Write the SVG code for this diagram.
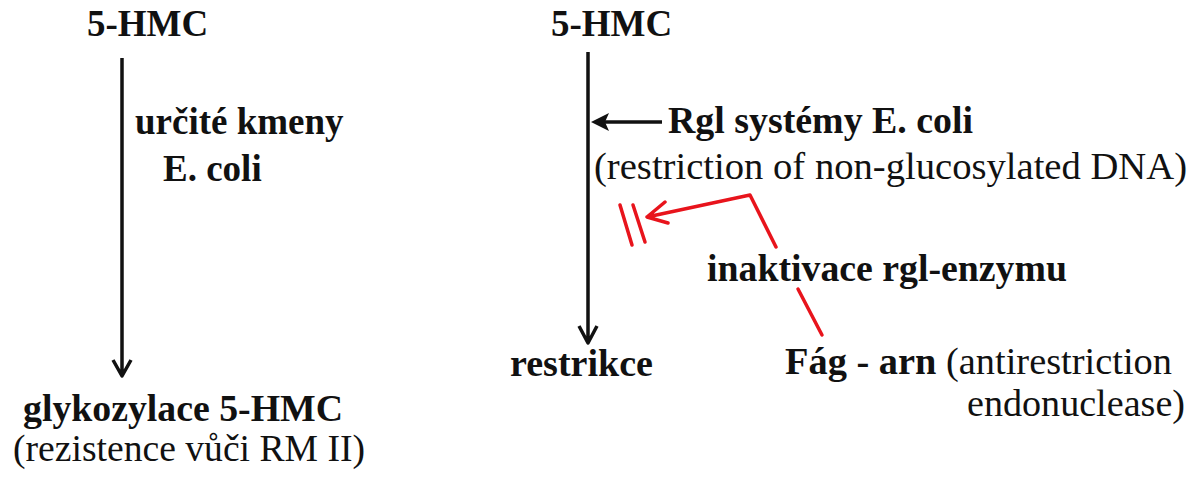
<svg xmlns="http://www.w3.org/2000/svg" width="1193" height="477" viewBox="0 0 1193 477">
<style>
text{font-family:'Liberation Serif','Times New Roman',serif;font-size:37px;fill:#111}
.b{font-weight:bold}
.k{stroke:#111;stroke-width:3.5;fill:none;stroke-linejoin:round}
.r{stroke:#e8141c;stroke-width:3.5;fill:none;stroke-linecap:round;stroke-linejoin:round}
</style>
<rect width="1193" height="477" fill="#fff"/>
<g id="left-top"><text class="b" x="87" y="36">5-HMC</text></g>
<g id="left-label"><text class="b" x="135" y="134">určité kmeny</text><text class="b" x="163" y="181">E. coli</text></g>
<g id="left-bottom"><text class="b" x="23" y="421" textLength="320" lengthAdjust="spacingAndGlyphs">glykozylace 5-HMC</text><text x="13" y="461" textLength="352" lengthAdjust="spacingAndGlyphs">(rezistence vůči RM II)</text></g>
<g id="right-top"><text class="b" x="551" y="36">5-HMC</text></g>
<g id="rgl"><text class="b" x="668" y="133" textLength="305" lengthAdjust="spacingAndGlyphs">Rgl systémy E. coli</text><text x="594" y="179" textLength="593" lengthAdjust="spacingAndGlyphs">(restriction of non-glucosylated DNA)</text></g>
<g id="restrikce"><text class="b" x="510" y="376" textLength="143" lengthAdjust="spacingAndGlyphs">restrikce</text></g>
<g id="inaktivace"><text class="b" x="707" y="281" textLength="360" lengthAdjust="spacingAndGlyphs">inaktivace rgl-enzymu</text></g>
<g id="fag"><text x="785" y="374" textLength="387" lengthAdjust="spacingAndGlyphs"><tspan font-weight="bold">Fág - arn</tspan> (antirestriction</text><text x="967" y="416" textLength="218" lengthAdjust="spacingAndGlyphs">endonuclease)</text></g>
<g id="connectors">
<path class="k" d="M122 58V375M113 360L122 376L131 360"/>
<path class="k" d="M588 52V342M579 326L588 343L597 326"/>
<path class="k" d="M662 122H596"/>
<path d="M591 122L609 113L605 122L609 131Z" fill="#111"/>
<path class="r" d="M620 205L632 245M633 205L645 242"/>
<path class="r" d="M776 247L750 195L647 217M665 202L647 217L668 223"/>
<path class="r" d="M798 289L822 335"/>
</g>
</svg>
